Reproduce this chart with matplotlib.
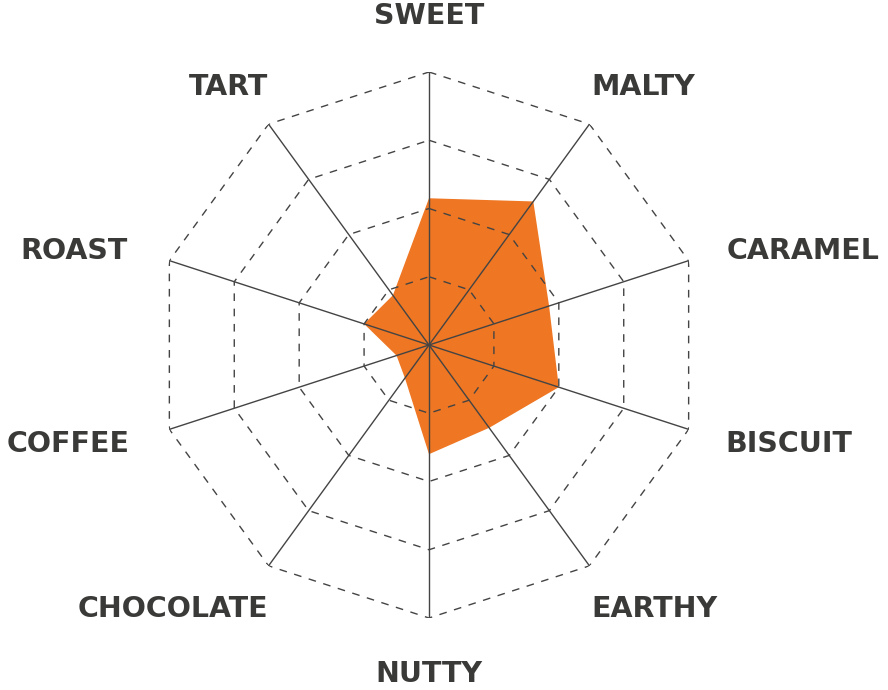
import numpy as np
import matplotlib
matplotlib.use("Agg")
import matplotlib.pyplot as plt

# flavour profile, clockwise from the top
labels = ["SWEET", "MALTY", "CARAMEL", "BISCUIT", "EARTHY",
          "NUTTY", "CHOCOLATE", "COFFEE", "ROAST", "TART"]
values = [2.15, 2.6, 1.85, 2.0, 1.5, 1.6, 0.6, 0.5, 1.0, 0.9]
levels = [1, 2, 3, 4]
rmax = 4

n = len(labels)
angles = np.arange(n) * 2 * np.pi / n
closed = np.append(angles, angles[0])

W, H = 888, 690
fig = plt.figure(figsize=(W / 100, H / 100), dpi=100)
cx, cy, R = 429, 345, 273
ax = fig.add_axes([(cx - R) / W, (H - cy - R) / H, 2 * R / W, 2 * R / H],
                  projection="polar")
ax.set_theta_zero_location("N")
ax.set_theta_direction(-1)
ax.set_ylim(0, rmax)
ax.grid(False)
ax.spines["polar"].set_visible(False)
ax.set_xticks([])
ax.set_yticks([])
ax.patch.set_alpha(0)

orange = "#EF7622"
dark = "#444444"

ax.fill(angles, values, color=orange, lw=0, zorder=1)

for lv in levels:
    ax.plot(closed, [lv] * (n + 1), color=dark, lw=1.0,
            linestyle=(0, (5.5, 5.5)), zorder=2)

for a in angles:
    ax.plot([a, a], [0, rmax], color=dark, lw=1.0, zorder=3)

# label offsets (pixels) from the outer vertex of each axis, text baseline
offsets = {
    "SWEET": (0, 48, "center"),
    "MALTY": (1.5, 29, "left"),
    "CARAMEL": (38, 1.6, "left"),
    "BISCUIT": (37, -22.6, "left"),
    "EARTHY": (1.5, -51, "left"),
    "NUTTY": (0, -64, "center"),
    "CHOCOLATE": (0, -51, "right"),
    "COFFEE": (-40, -22.6, "right"),
    "ROAST": (-42, 1.6, "right"),
    "TART": (-0.5, 29, "right"),
}
for a, lab in zip(angles, labels):
    dx, dy, ha = offsets[lab]
    ax.annotate(lab, xy=(a, rmax), xytext=(dx * 0.72, dy * 0.72),
                textcoords="offset points", ha=ha, va="baseline",
                fontsize=20.5, fontweight="bold", color="#3a3a38",
                family="DejaVu Sans", annotation_clip=False)

fig.savefig("out.png", dpi=100)
